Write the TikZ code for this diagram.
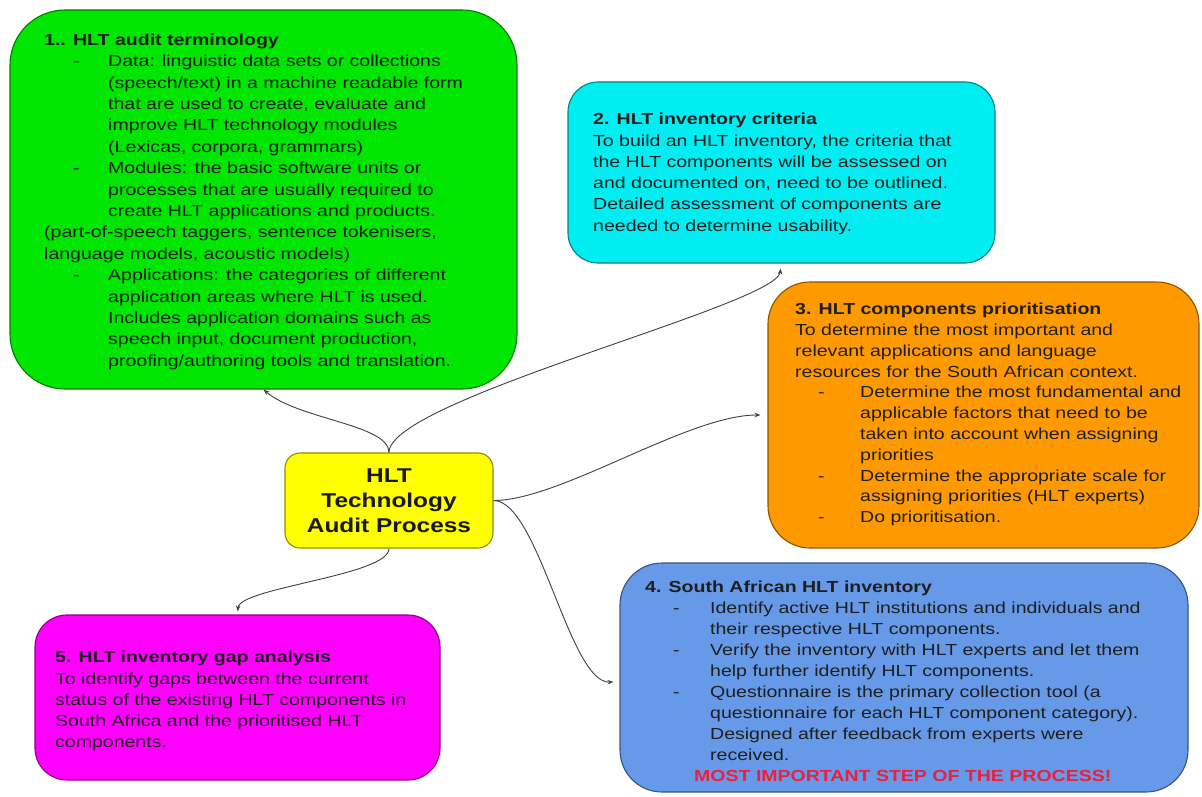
\documentclass[tikz,border=0pt]{standalone}
\usepackage{fontspec}
\setmainfont{Liberation Sans}[FakeStretch=1.22]
\usetikzlibrary{arrows.meta}

\definecolor{boxgreen}{RGB}{0,230,0}
\definecolor{boxcyan}{RGB}{0,238,242}
\definecolor{boxorange}{RGB}{255,153,0}
\definecolor{boxblue}{RGB}{102,153,232}
\definecolor{boxmagenta}{RGB}{255,0,255}
\definecolor{boxyellow}{RGB}{255,255,0}
\definecolor{alertred}{RGB}{238,30,60}

% list helpers: dash offset, gap from dash to text, text / indented continuation
\newcommand{\dashline}[3]{\hspace*{#1}\makebox[#2][l]{-}#3}
\newcommand{\cont}[2]{\hspace*{#1}#2}

\begin{document}
\begin{tikzpicture}[x=1pt,y=-1pt,
  box/.style={draw=#1!55!black, fill=#1, line width=1.1pt, inner sep=0pt},
  txt/.style={anchor=north west, inner sep=0pt, align=left, text=black!88,
    font=\fontsize{16}{#1}\selectfont, execute at begin node={\rule{0pt}{12pt}}},
  txt/.default=21.2,
  link/.style={draw=black!75, line width=0.9pt, -{Stealth[length=6pt,width=4.5pt]}}]
\useasboundingbox (0,0) rectangle (1202,797);

% boxes
\node[box=boxgreen, rounded corners=55pt, minimum width=507pt, minimum height=379pt] (g) at (263.5,199.5) {};
\node[box=boxcyan, rounded corners=30pt, minimum width=427pt, minimum height=181pt] (cy) at (781.5,172.5) {};
\node[box=boxorange, rounded corners=42pt, minimum width=431pt, minimum height=266pt] (o) at (983.5,415) {};
\node[box=boxblue, rounded corners=42pt, minimum width=568pt, minimum height=229pt] (b) at (904,677.5) {};
\node[box=boxmagenta, rounded corners=32pt, minimum width=405pt, minimum height=165pt] (m) at (237.5,697.5) {};
\node[box=boxyellow, rounded corners=15pt, minimum width=208pt, minimum height=95pt,
      align=center, font=\fontsize{20}{25}\selectfont\bfseries, text=black!90] (c) at (389,500.5)
      {HLT\\Technology\\Audit Process};

% connectors from the central node
\draw[link] (c.north) .. controls +(0,-28) and +(35,30) .. (g.south);
\draw[link, shorten >=5pt] (c.north) .. controls +(0,-53) and +(-6,42) .. (cy.south);
\draw[link, shorten >=7pt] (c.east) .. controls +(67,0) and +(-80,0) .. (o.west);
\draw[link, shorten >=6pt] (c.east) .. controls +(45,0) and +(-50,3) .. ([yshift=-4pt]b.west);
\draw[link, shorten >=3pt] (c.south) .. controls +(0,27) and +(2,-27) .. (m.north);

% box texts
\node[txt=21.4] (gt) at (44,33.5) {\textbf{1.. HLT audit terminology}\\
\dashline{29pt}{35pt}{Data: linguistic data sets or collections}\\
\cont{64pt}{(speech/text) in a machine readable form}\\
\cont{64pt}{that are used to create, evaluate and}\\
\cont{64pt}{improve HLT technology modules}\\
\cont{64pt}{(Lexicas, corpora, grammars)}\\
\dashline{29pt}{35pt}{Modules: the basic software units or}\\
\cont{64pt}{processes that are usually required to}\\
\cont{64pt}{create HLT applications and products.}\\
(part-of-speech taggers, sentence tokenisers,\\
language models, acoustic models)\\
\dashline{29pt}{35pt}{Applications: the categories of different}\\
\cont{64pt}{application areas where HLT is used.}\\
\cont{64pt}{Includes application domains such as}\\
\cont{64pt}{speech input, document production,}\\
\cont{64pt}{proofing/authoring tools and translation.}};

\node[txt=21.3] (cyt) at (593,113) {\textbf{2. HLT inventory criteria}\\
To build an HLT inventory, the criteria that\\
the HLT components will be assessed on\\
and documented on, need to be outlined.\\
Detailed assessment of components are\\
needed to determine usability.};

\node[txt=20.8] (ot) at (795,303) {\textbf{3. HLT components prioritisation}\\
To determine the most important and\\
relevant applications and language\\
resources for the South African context.\\
\dashline{23pt}{42pt}{Determine the most fundamental and}\\
\cont{65pt}{applicable factors that need to be}\\
\cont{65pt}{taken into account when assigning}\\
\cont{65pt}{priorities}\\
\dashline{23pt}{42pt}{Determine the appropriate scale for}\\
\cont{65pt}{assigning priorities (HLT experts)}\\
\dashline{23pt}{42pt}{Do prioritisation.}};

\node[txt=21] (bt) at (645,581) {\textbf{4. South African HLT inventory}\\
\dashline{28pt}{37pt}{Identify active HLT institutions and individuals and}\\
\cont{65pt}{their respective HLT components.}\\
\dashline{28pt}{37pt}{Verify the inventory with HLT experts and let them}\\
\cont{65pt}{help further identify HLT components.}\\
\dashline{28pt}{37pt}{Questionnaire is the primary collection tool (a}\\
\cont{65pt}{questionnaire for each HLT component category).}\\
\cont{65pt}{Designed after feedback from experts were}\\
\cont{65pt}{received.}\\
\hspace*{49pt}\textcolor{alertred}{\textbf{MOST IMPORTANT STEP OF THE PROCESS!}}};

\node[txt=21.2] (mt) at (55,651) {\textbf{5. HLT inventory gap analysis}\\
To identify gaps between the current\\
status of the existing HLT components in\\
South Africa and the prioritised HLT\\
components.};
\end{tikzpicture}
\end{document}
